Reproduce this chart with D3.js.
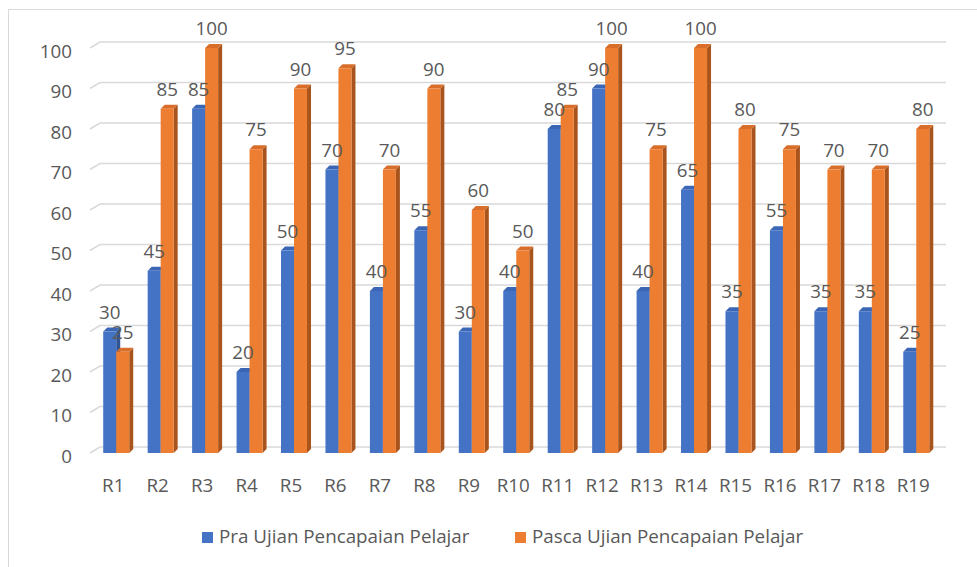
<!DOCTYPE html>
<html>
<head>
<meta charset="utf-8">
<style>
  body { margin: 0; background: #fff; }
  text { font-family: "Open Sans", sans-serif; fill: #595959; }
</style>
</head>
<body>
<div id="chart-area"></div>
<script src="https://cdn.jsdelivr.net/npm/d3@7/dist/d3.min.js"></script>
<script>
    const categories = ["R1","R2","R3","R4","R5","R6","R7","R8","R9","R10",
        "R11","R12","R13","R14","R15","R16","R17","R18","R19"];
    const pra = [30,45,85,20,50,70,40,55,30,40,80,90,40,65,35,55,35,35,25];
    const pasca = [25,85,100,75,90,95,70,90,60,50,85,100,75,100,80,75,70,70,80];
    const seriesNames = ["Pra Ujian Pencapaian Pelajar", "Pasca Ujian Pencapaian Pelajar"];
    const yTicks = [0,10,20,30,40,50,60,70,80,90,100];

    const width = 977, height = 567;
    const fontSize = 18.8;
    const depthX = 4, depthY = 4;     // bar depth
    const wallX = 10, wallY = 6;      // back wall offset
    const barW = 13;

    const colors = [
        {front: "#4472C4", side: "#2F5597", top: "#3B66B5"},
        {front: "#ED7D31", side: "#A9541C", top: "#D86E2A"}
    ];

    const svg = d3.select("#chart-area")
        .append("svg")
            .attr("width", width)
            .attr("height", height);

    // chart border
    svg.append("rect")
        .attr("x", 8.5).attr("y", 9.5)
        .attr("width", 1000).attr("height", 600)
        .attr("fill", "none")
        .attr("stroke", "#D9D9D9");

    const x = d3.scaleBand()
        .domain(categories)
        .range([91, 935.5]);

    const y = d3.scaleLinear()
        .domain([0, 100])
        .range([453, 48]);

    // gridlines: short floor diagonal + back wall line
    const grid = svg.append("g");
    yTicks.forEach(t => {
        const yy = y(t);
        grid.append("path")
            .attr("d", `M90,${yy} L${90 + wallX},${yy - wallY} L946,${yy - wallY}`)
            .attr("fill", "none")
            .attr("stroke", "#D9D9D9")
            .attr("stroke-width", 1.5);
        grid.append("text")
            .attr("x", 72)
            .attr("y", yy + 3)
            .attr("dy", "0.35em")
            .attr("text-anchor", "end")
            .attr("font-size", fontSize)
            .text(t);
    });

    // x labels
    svg.append("g").selectAll("text")
        .data(categories)
        .join("text")
            .attr("x", d => x(d) + x.bandwidth() / 2)
            .attr("y", 485)
            .attr("dy", "0.35em")
            .attr("text-anchor", "middle")
            .attr("font-size", fontSize)
            .text(d => d);

    function bar3d(g, x0, v, c) {
        const x1 = x0 + barW;
        const yt = y(v), yb = y(0);
        g.append("path")
            .attr("d", `M${x1},${yt} L${x1 + depthX},${yt - depthY} L${x1 + depthX},${yb - depthY} L${x1},${yb}Z`)
            .attr("fill", c.side);
        g.append("path")
            .attr("d", `M${x0},${yt} L${x0 + depthX},${yt - depthY} L${x1 + depthX},${yt - depthY} L${x1},${yt}Z`)
            .attr("fill", c.top);
        g.append("rect")
            .attr("x", x0).attr("y", yt)
            .attr("width", barW).attr("height", yb - yt)
            .attr("fill", c.front);
    }

    const bars = svg.append("g");
    const labels = svg.append("g");
    categories.forEach((cat, i) => {
        const cx = x(cat) + x.bandwidth() / 2;
        const vals = [pra[i], pasca[i]];
        const xs = [cx + 3 - barW, cx + 3];
        vals.forEach((v, s) => {
            bar3d(bars, xs[s], v, colors[s]);
            labels.append("text")
                .attr("x", xs[s] + barW / 2)
                .attr("y", y(v) - 13)
                .attr("text-anchor", "middle")
                .attr("font-size", fontSize)
                .text(v);
        });
    });

    // legend
    const legend = svg.append("g");
    const legendX = [202, 515];
    seriesNames.forEach((name, s) => {
        legend.append("rect")
            .attr("x", legendX[s]).attr("y", 532)
            .attr("width", 11).attr("height", 11)
            .attr("fill", colors[s].front);
        legend.append("text")
            .attr("x", legendX[s] + 17)
            .attr("y", 543)
            .attr("font-size", fontSize)
            .text(name);
    });
</script>
</body>
</html>
